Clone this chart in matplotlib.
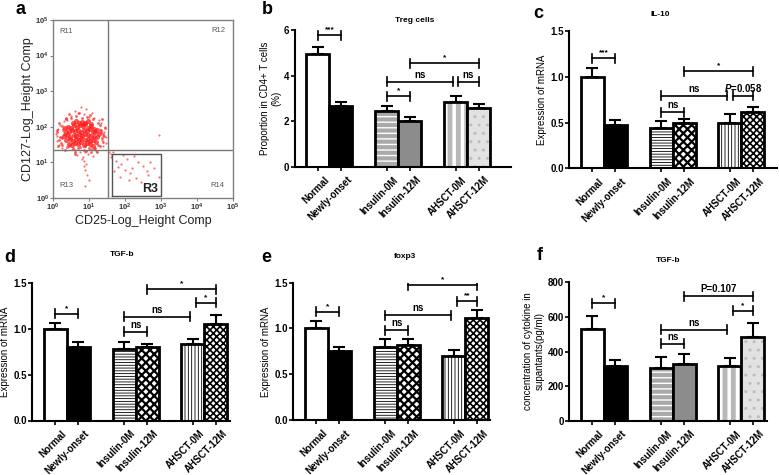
import matplotlib
matplotlib.use('Agg')
import matplotlib.pyplot as plt
from matplotlib import transforms
import numpy as np

plt.rcParams['font.family'] = ['Liberation Sans', 'DejaVu Sans']
plt.rcParams['font.weight'] = 'bold'
plt.rcParams['mathtext.fontset'] = 'custom'
plt.rcParams['mathtext.rm'] = 'Liberation Sans:bold'
plt.rcParams['mathtext.it'] = 'Liberation Sans:italic:bold'

# ---- data ----
groups = ['Normal', 'Newly-onset', 'Insulin-0M', 'Insulin-12M', 'AHSCT-0M', 'AHSCT-12M']

treg_mean = [4.96, 2.65, 2.45, 2.01, 2.85, 2.58]
treg_err = [0.28, 0.17, 0.20, 0.18, 0.24, 0.16]
il10_mean = [1.0, 0.474, 0.437, 0.50, 0.50, 0.62]
il10_err = [0.10, 0.056, 0.083, 0.04, 0.09, 0.047]
tgfb_mean = [1.0, 0.80, 0.778, 0.80, 0.83, 1.055]
tgfb_err = [0.06, 0.055, 0.077, 0.036, 0.06, 0.09]
foxp3_mean = [1.0, 0.75, 0.80, 0.815, 0.70, 1.116]
foxp3_err = [0.084, 0.05, 0.08, 0.065, 0.064, 0.091]
elisa_mean = [530, 316, 307, 328, 318, 486]
elisa_err = [78, 35, 59, 56, 47, 81]

# significance brackets: (group i, group j, height, label)
treg_sig = [(0, 1, 5.77, '***'), (2, 3, 3.09, '*'), (2, 4, 3.72, 'ns'),
            (4, 5, 3.72, 'ns'), (3, 5, 4.53, '*')]
il10_sig = [(0, 1, 1.20, '***'), (2, 3, 0.61, 'ns'), (2, 4, 0.79, 'ns'),
            (4, 5, 0.79, r'$\mathit{P}$=0.058'), (3, 5, 1.06, '*')]
tgfb_sig = [(0, 1, 1.16, '*'), (2, 3, 0.964, 'ns'), (2, 4, 1.13, 'ns'),
            (4, 5, 1.28, '*'), (3, 5, 1.43, '*')]
foxp3_sig = [(0, 1, 1.18, '*'), (2, 3, 0.98, 'ns'), (2, 4, 1.145, 'ns'),
             (4, 5, 1.30, '**'), (3, 5, 1.47, '*')]
elisa_sig = [(0, 1, 679, '*'), (2, 3, 444, 'ns'), (2, 4, 525, 'ns'),
             (4, 5, 635, '*'), (3, 5, 718, 'P=0.107')]

# flow cytometry dots (log10 of CD25, log10 of CD127)
core_lx = [0.32, 0.41, 0.50, 0.58, 0.66, 0.74, 0.82, 0.90, 0.98, 1.06, 1.14, 1.22,
           0.36, 0.45, 0.54, 0.62, 0.70, 0.78, 0.86, 0.94, 1.02, 1.10, 1.18, 1.27,
           0.30, 0.39, 0.48, 0.57, 0.65, 0.73, 0.81, 0.89, 0.97, 1.05, 1.13, 1.21,
           0.37, 0.46, 0.55, 0.63, 0.71, 0.79, 0.88, 0.96, 1.04, 1.12, 1.20,
           0.45, 0.54, 0.62, 0.70, 0.78, 0.86, 0.95, 1.03, 1.11,
           0.55, 0.64, 0.72, 0.80, 0.88, 0.97, 1.05]
core_ly = [1.96, 2.00, 1.97, 2.04, 1.99, 2.05, 2.02, 2.07, 1.98, 2.03, 1.95, 1.92,
           1.86, 1.84, 1.90, 1.87, 1.92, 1.85, 1.91, 1.88, 1.93, 1.86, 1.84, 1.80,
           1.74, 1.77, 1.72, 1.78, 1.75, 1.80, 1.73, 1.79, 1.76, 1.74, 1.70, 1.72,
           1.64, 1.66, 1.61, 1.67, 1.63, 1.68, 1.62, 1.65, 1.60, 1.63, 1.58,
           1.53, 1.50, 1.55, 1.52, 1.57, 1.49, 1.54, 1.51, 1.47,
           2.12, 2.15, 2.10, 2.14, 2.11, 2.16, 2.09]
mid_lx = [0.12, 0.20, 0.28, 0.16, 0.24, 0.10, 0.22, 0.30, 0.18, 0.26,
          1.32, 1.40, 1.36, 1.44, 1.30, 1.38, 1.42, 1.34,
          0.35, 0.50, 0.65, 0.80, 0.95, 1.10, 1.25, 0.45, 0.72, 1.02,
          0.40, 0.55, 0.70, 0.85, 1.00, 1.15, 1.30, 0.62, 0.92, 1.22,
          0.25, 0.35, 1.25, 1.35, 0.15, 0.45, 0.60, 0.75, 0.90, 1.05, 1.18, 0.32]
mid_ly = [1.85, 1.72, 1.95, 1.62, 2.02, 1.90, 1.55, 1.80, 2.10, 1.68,
          1.92, 1.80, 1.68, 1.98, 2.05, 1.58, 1.74, 1.86,
          2.22, 2.26, 2.30, 2.24, 2.28, 2.21, 2.12, 2.35, 2.38, 2.33,
          1.42, 1.38, 1.40, 1.36, 1.41, 1.37, 1.45, 1.30, 1.32, 1.28,
          1.48, 2.25, 1.50, 2.22, 1.45, 1.45, 1.25, 1.44, 1.46, 1.28, 1.40, 1.35]
halo_lx = [0.08, 0.15, 0.22, 0.12, 0.20, 0.28, 0.18, 0.25, 0.10, 0.30,
           1.30, 1.38, 1.45, 1.35, 1.42, 1.48, 1.33, 1.40, 1.28, 1.46,
           0.50, 0.70, 0.85, 1.00, 0.62, 0.93, 1.15, 0.78, 0.40, 1.08,
           0.60, 0.75, 0.90, 1.05, 0.68, 0.83, 0.98, 1.20, 0.55, 1.12,
           0.85, 0.92, 0.88, 0.95, 0.80, 1.00, 0.90, 0.87,
           1.62, 1.75, 1.90, 2.05, 2.20, 2.35, 1.70, 1.85, 2.00, 2.15, 2.30,
           2.50, 2.65, 2.80, 2.95, 1.95, 2.25, 2.45, 2.70, 1.80, 2.10, 2.60,
           1.55, 1.68, 1.60, 2.95]
halo_ly = [1.80, 1.95, 1.70, 1.60, 2.05, 1.88, 1.50, 1.40, 1.75, 2.15,
           1.90, 1.75, 2.00, 1.62, 1.85, 1.55, 2.10, 1.45, 2.20, 1.70,
           2.30, 2.40, 2.35, 2.28, 2.45, 2.50, 2.25, 2.55, 2.20, 2.38,
           1.35, 1.30, 1.28, 1.38, 1.22, 1.15, 1.25, 1.32, 1.40, 1.18,
           1.05, 0.95, 0.80, 0.65, 1.10, 0.50, 0.35, 0.90,
           1.15, 1.05, 0.95, 1.10, 0.85, 1.00, 0.75, 0.60, 0.80, 0.70, 0.55,
           0.90, 0.65, 0.85, 0.60, 1.20, 1.18, 0.45, 1.00, 0.88, 0.50, 0.75,
           1.30, 1.28, 1.25, 1.78]
gate_cd25 = 33
gate_cd127 = 22
r3_box = [43, 1000, 1.15, 17]  # x0, x1, y0, y1

# bar fill styles (face, hatch, hatch colour, hatch width)
grey_styles = [('white', None, 'black', 1), ('black', None, 'black', 1),
               ('white', '---', '#a9a9a9', 3.0), ('#8c8c8c', None, 'black', 1),
               ('#b8b8b8', '||', 'white', 2.5), ('#e2e2e2', '..', '#bdbdbd', 1.0)]
line_styles = [('white', None, 'black', 1), ('black', None, 'black', 1),
               ('white', '------', 'black', 0.6), ('white', 'xxxx', 'black', 1.6),
               ('white', '|||||', 'black', 0.6), ('white', 'xxxxx', 'black', 1.2)]

W, H = 779, 475
fig = plt.figure(figsize=(W / 100, H / 100), dpi=100)


def rect(l, t, r, b):
    return [l / W, 1 - b / H, (r - l) / W, (b - t) / H]


# ---- panel a ----
ax = fig.add_axes(rect(53, 20, 233, 198))
ax.set_xscale('log')
ax.set_yscale('log')
ax.set_xlim(1, 1e5)
ax.set_ylim(1, 1e5)
ax.scatter(10 ** np.array(halo_lx), 10 ** np.array(halo_ly), s=2.5, c='#ff4a4a', linewidths=0, alpha=0.8)
ax.scatter(10 ** np.array(mid_lx), 10 ** np.array(mid_ly), s=4, c='#ff3030', linewidths=0, alpha=0.8)
ax.scatter(10 ** np.array(core_lx), 10 ** np.array(core_ly), s=13, c='#ff1a1a', linewidths=0, alpha=0.75)
ax.axvline(gate_cd25, color='#777777', lw=1)
ax.axhline(gate_cd127, color='#777777', lw=1)
ax.plot([r3_box[0], r3_box[1], r3_box[1], r3_box[0], r3_box[0]],
        [r3_box[2], r3_box[2], r3_box[3], r3_box[3], r3_box[2]], color='#555555', lw=1)
for s in ax.spines.values():
    s.set_color('#808080')
    s.set_linewidth(1)
ax.set_xticks([1, 10, 100, 1e3, 1e4, 1e5])
ax.set_yticks([1, 10, 100, 1e3, 1e4, 1e5])
ax.set_xticklabels(['$10^{%d}$' % i for i in range(6)])
ax.set_yticklabels(['$10^{%d}$' % i for i in range(6)])
ax.minorticks_off()
ax.tick_params(labelsize=5.5, length=2, width=0.8, color='#808080', labelcolor='#333333', pad=1)
ax.set_xlabel('CD25-Log_Height Comp', fontsize=9, labelpad=1, color='#222222')
ax.set_ylabel('CD127-Log_Height Comp', fontsize=9, labelpad=1, color='#222222')
for txt, fx, fy in [('R11', 0.07, 0.935), ('R12', 0.92, 0.94), ('R13', 0.075, 0.07), ('R14', 0.915, 0.07)]:
    ax.text(fx, fy, txt, transform=ax.transAxes, fontsize=5.5, fontweight='normal', color='#555555',
            ha='center', va='center')
ax.text(0.54, 0.05, 'R3', transform=ax.transAxes, fontsize=9, color='#222222', ha='center', va='center')

# ---- bar panels ----
pos = np.array([0, 1, 3, 4, 6, 7])
unit = 22.95


def bar_panel(box, means, errs, ymax, yticks, ylabels, ylabel, sig, styles):
    l, t, r, b = box
    ax = fig.add_axes(rect(l, t, r, b))
    ax.set_xlim(-1, -1 + (r - l) / unit)
    ax.set_ylim(0, ymax)
    for p, m, st in zip(pos, means, styles):
        face, hatch, hcol, hlw = st
        bars = ax.bar(p, m, width=1, color=face, hatch=hatch, edgecolor=hcol, linewidth=0)
        for patch in bars:
            try:
                patch.set_hatch_linewidth(hlw)
            except AttributeError:
                pass
        ax.bar(p, m, width=1, fill=False, edgecolor='black', linewidth=2)
    ax.errorbar(pos, means, yerr=[np.zeros(len(errs)), errs], fmt='none', ecolor='black',
                elinewidth=1.5, capsize=4.5, capthick=1.5)
    for s in ['top', 'right']:
        ax.spines[s].set_visible(False)
    for s in ['left', 'bottom']:
        ax.spines[s].set_linewidth(1.5)
    ax.set_xticks(pos)
    ax.set_xticklabels([])
    ax.set_yticks(yticks)
    ax.set_yticklabels(ylabels)
    ax.tick_params(axis='both', direction='out', length=3, width=1.2, labelsize=7, pad=1)
    ax.set_ylabel(ylabel, fontsize=7, labelpad=2)
    trans = transforms.offset_copy(ax.get_xaxis_transform(), fig=fig, x=6, y=-8, units='dots')
    for p, g in zip(pos, groups):
        ax.text(p, 0, g, transform=trans, rotation=45, ha='right', va='top',
                rotation_mode='anchor', fontsize=7)
    ppu = (b - t) / ymax
    cap = 4.5 / ppu
    for i, j, y, lab in sig:
        x1, x2 = pos[i], pos[j]
        if (i, j) == (2, 4):
            x2 -= 0.12
        if (i, j) == (4, 5):
            x1 += 0.12
        ax.plot([x1, x2], [y, y], color='black', lw=1.2)
        ax.plot([x1, x1], [y - cap, y + cap], color='black', lw=1.2)
        ax.plot([x2, x2], [y - cap, y + cap], color='black', lw=1.2)
        fs = 6 if '*' in lab else 7
        ax.text((x1 + x2) / 2, y + 2 / ppu, lab, ha='center', va='bottom', fontsize=fs)
    return ax


bar_panel((295, 30, 511, 166.7), treg_mean, treg_err, 6, [0, 2, 4, 6], ['0', '2', '4', '6'],
          'Proportion in CD4+ T cells\n(%)', treg_sig, grey_styles)
bar_panel((569.3, 31, 777, 168.3), il10_mean, il10_err, 1.5, [0, 0.5, 1.0, 1.5],
          ['0.0', '0.5', '1.0', '1.5'], 'Expression of mRNA', il10_sig, line_styles)
bar_panel((32.3, 282.7, 230, 420.5), tgfb_mean, tgfb_err, 1.5, [0, 0.5, 1.0, 1.5],
          ['0.0', '0.5', '1.0', '1.5'], 'Expression of mRNA', tgfb_sig, line_styles)
bar_panel((293.3, 282.7, 490, 420), foxp3_mean, foxp3_err, 1.5, [0, 0.5, 1.0, 1.5],
          ['0.0', '0.5', '1.0', '1.5'], 'Expression of mRNA', foxp3_sig, line_styles)
bar_panel((569.3, 282.3, 767, 420.7), elisa_mean, elisa_err, 800, [0, 200, 400, 600, 800],
          ['0', '200', '400', '600', '800'], 'concentration of cytokine in\nsupantants(pg/ml)',
          elisa_sig, grey_styles)

# titles and panel letters
for txt, x, y in [('Treg cells', 415, 20), ('IL-10', 660, 15), ('TGF-b', 122, 255),
                  ('foxp3', 405, 257), ('TGF-b', 668, 260)]:
    fig.text(x / W, 1 - y / H, txt, ha='center', va='center', fontsize=6)
for txt, x, y in [('a', 20, 10), ('b', 267, 9), ('c', 538, 13), ('d', 10, 257),
                  ('e', 266, 257), ('f', 540, 256)]:
    fig.text(x / W, 1 - y / H, txt, ha='center', va='center', fontsize=13)

fig.savefig('out.png', dpi=100)
